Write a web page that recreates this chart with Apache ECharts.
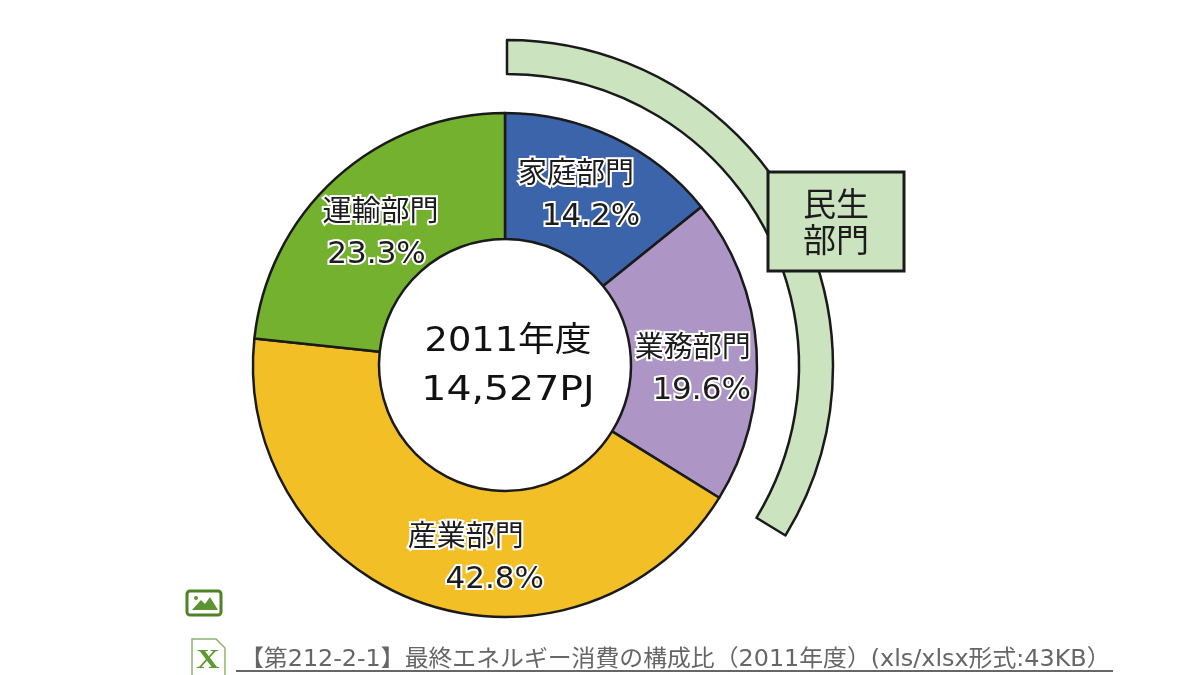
<!DOCTYPE html>
<html><head><meta charset="utf-8">
<style>html,body{margin:0;background:#fff}#c{width:1200px;height:675px}</style>
<script src="https://cdn.jsdelivr.net/npm/echarts@6/dist/echarts.min.js"></script>
</head><body><div id="c"></div>
<script>
const categories = ['家庭部門','業務部門','産業部門','運輸部門'];
const shares = [14.2,19.6,42.8,23.3];
const sliceColors = ['#3b64aa','#ad95c6','#f3bf26','#74b12e'];
const labelOffsets = [[-12,3],[-4,15],[23,11],[4,10]];
const pctShift = [30,18,58,-8];
const civilGroup = '民生部門';
const civilShares = [33.7,66.3];
const centerLines = ['2011年度','14,527PJ'];
const linkText = '【第212-2-1】最終エネルギー消費の構成比（2011年度）(xls/xlsx形式:43KB）';
const FONT = '"DejaVu Sans","Noto Sans CJK JP",sans-serif';
const DARK = '#1c1c1c';
const ts = {fontFamily:FONT,color:DARK,textBorderColor:'#fff',textBorderWidth:4};
const chart = echarts.init(document.getElementById('c'));
chart.setOption({
  animation:false, backgroundColor:'#fff',
  series:[
    {type:'pie',center:[505,365],radius:[126,252],startAngle:90,clockwise:true,silent:true,
     itemStyle:{borderColor:'#1a1a1a',borderWidth:2.5},
     labelLine:{show:false},
     data:categories.map((n,i)=>({name:n,value:shares[i],itemStyle:{color:sliceColors[i]},
       label:{show:true,position:'inside',offset:labelOffsets[i],
         formatter:'{n|'+n+'}\n{p'+i+'|'+shares[i].toFixed(1)+'%}',
         rich:{n:{...ts,fontSize:29,fontFamily:'"Noto Sans CJK JP"',lineHeight:45},
               ['p'+i]:{...ts,fontSize:31,lineHeight:45,
                 padding:pctShift[i]>=0?[0,0,0,pctShift[i]]:[0,-pctShift[i],0,0]}}}}))},
    {type:'pie',center:[507,366],radius:[292,326],startAngle:90,clockwise:true,silent:true,z:1,
     label:{show:false},labelLine:{show:false},
     data:[{name:civilGroup,value:civilShares[0],itemStyle:{color:'#cbe3bf',borderColor:'#1a1a1a',borderWidth:2.5}},
           {name:'',value:civilShares[1],itemStyle:{color:'transparent',borderWidth:0}}]}
  ],
  graphic:[
    {type:'rect',shape:{x:768,y:172,width:136,height:99},z:50,style:{fill:'#cbe3bf',stroke:'#1a1a1a',lineWidth:3}},
    {type:'text',x:836,y:221,z:51,style:{text:civilGroup.slice(0,2)+'\n'+civilGroup.slice(2),align:'center',verticalAlign:'middle',fontSize:33,lineHeight:36,fontFamily:'"Noto Sans CJK JP"',fill:DARK}},
    {type:'text',x:508,y:342,scaleX:1.08,z:51,style:{text:centerLines[0],align:'center',verticalAlign:'middle',fontSize:34,fontFamily:FONT,fill:'#111'}},
    {type:'text',x:508,y:391,scaleX:1.16,z:51,style:{text:centerLines[1],align:'center',verticalAlign:'middle',fontSize:34,fontFamily:FONT,fill:'#111'}},
    {type:'rect',shape:{x:187,y:591,width:34,height:24,r:3},style:{fill:'#fff',stroke:'#4f8125',lineWidth:3}},
    {type:'polygon',shape:{points:[[192,610],[201,600],[205,604],[210,597],[218,610]]},style:{fill:'#5d9330'}},
    {type:'circle',shape:{cx:196,cy:598,r:2},style:{fill:'#5d9330'}},
    {type:'polygon',shape:{points:[[192,639],[216,639],[225,648],[225,676],[192,676]]},style:{fill:'#fff',stroke:'#8fb36f',lineWidth:1.5}},
    {type:'text',x:208,y:661,scaleX:1.15,style:{text:'X',align:'center',verticalAlign:'middle',fontSize:28,fontWeight:'bold',fontFamily:'"Liberation Serif"',fill:'#5f9a2e'}},
    {type:'text',x:240,y:660,scaleX:1.037,style:{text:linkText,align:'left',verticalAlign:'middle',fontSize:23,fontFamily:FONT,fill:'#666'}},
    {type:'line',shape:{x1:236,y1:671,x2:1113,y2:671},style:{stroke:'#666',lineWidth:2}}
  ]
});
</script></body></html>
